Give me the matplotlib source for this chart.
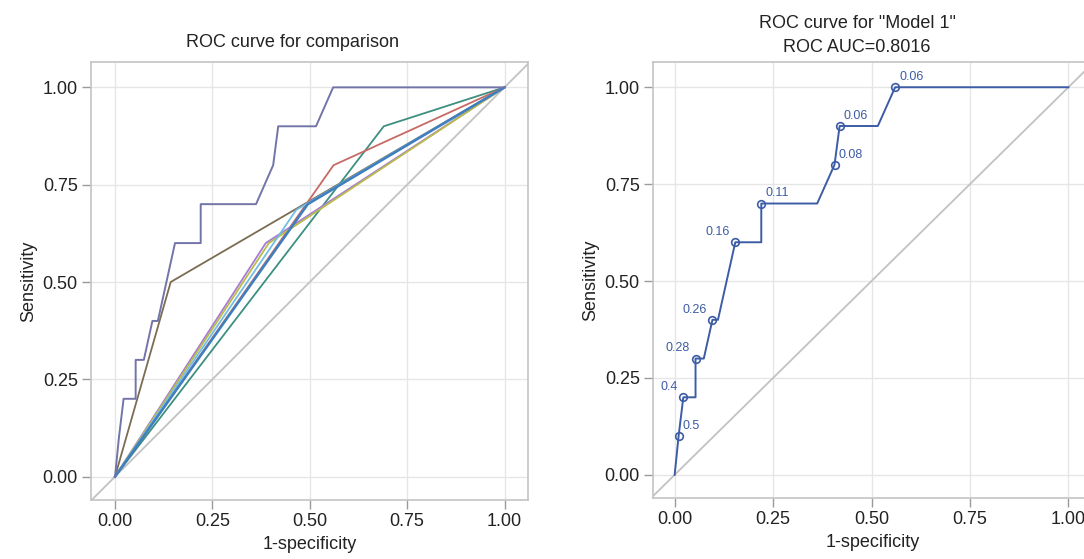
import matplotlib
matplotlib.use("Agg")
import matplotlib.pyplot as plt

plt.rcParams["font.family"] = ["Liberation Sans", "DejaVu Sans"]

# Model 1 ROC points (1-specificity, sensitivity)
m1_fpr = [0.0, 0.010, 0.022, 0.053, 0.053, 0.074, 0.096, 0.110, 0.154, 0.220, 0.220,
          0.362, 0.406, 0.419, 0.516, 0.560, 1.0]
m1_tpr = [0.0, 0.1, 0.2, 0.2, 0.3, 0.3, 0.4, 0.4, 0.6, 0.6, 0.7,
          0.7, 0.8, 0.9, 0.9, 1.0, 1.0]

# cut-off labels shown on the right panel
cut_fpr = [0.010, 0.022, 0.053, 0.096, 0.154, 0.220, 0.406, 0.419, 0.560]
cut_tpr = [0.1, 0.2, 0.3, 0.4, 0.6, 0.7, 0.8, 0.9, 1.0]
cut_lab = ["0.5", "0.4", "0.28", "0.26", "0.16", "0.11", "0.08", "0.06", "0.06"]
cut_side = ["r", "l", "l", "l", "l", "r", "r", "r", "r"]

# single-cutoff comparison curves
others = {
    "brown": ([0, 0.143, 1], [0, 0.5, 1], "#7b6c52"),
    "teal": ([0, 0.69, 1], [0, 0.9, 1], "#3d8f80"),
    "red": ([0, 0.561, 1], [0, 0.8, 1], "#c76a66"),
    "purple": ([0, 0.387, 1], [0, 0.6, 1], "#a77ad6"),
    "yellow": ([0, 0.395, 1], [0, 0.6, 1], "#b9bb4a"),
    "cyan": ([0, 0.465, 1], [0, 0.685, 1], "#72bde6"),
    "blue": ([0, 0.495, 1], [0, 0.70, 1], "#3f7fbf"),
}

ticks = [0.0, 0.25, 0.5, 0.75, 1.0]
tick_labels = ["0.00", "0.25", "0.50", "0.75", "1.00"]

fig = plt.figure(figsize=(10.84, 5.59), dpi=100)
ax1 = fig.add_axes([0.084, 0.1055, 0.403, 0.7835])
ax2 = fig.add_axes([0.6024, 0.109, 0.405, 0.780])


def style(ax, xmin):
    ax.set_xlim(xmin, 1.06)
    ax.set_ylim(-0.06, 1.065)
    ax.set_xticks(ticks)
    ax.set_xticklabels(tick_labels)
    ax.set_yticks(ticks)
    ax.set_yticklabels(tick_labels)
    ax.grid(True, color="#e6e6e6", lw=1)
    ax.set_axisbelow(True)
    for s in ax.spines.values():
        s.set_color("#c4c4c4")
        s.set_linewidth(1.2)
    ax.tick_params(length=6.5, width=1, color="#9a9a9a", labelsize=13,
                   labelcolor="#222222", pad=3)
    ax.axline((0, 0), slope=1, color="#c2c2c2", lw=1.3, zorder=1)
    ax.set_xlabel("1-specificity", fontsize=13, color="#222222", labelpad=4)
    ax.set_ylabel("Sensitivity", fontsize=13, color="#222222", labelpad=4)


style(ax1, -0.0615)
style(ax2, -0.055)

# left panel
for name, (fx, fy, col) in others.items():
    lw = 1.8 if name == "blue" else 1.3
    ax1.plot(fx, fy, color=col, lw=lw, zorder=3)
ax1.plot(m1_fpr, m1_tpr, color="#7374a8", lw=1.4, zorder=4)
ax1.set_title("ROC curve for comparison", fontsize=13, color="#222222",
              x=0.462, pad=11)

# right panel
blue = "#3d5ca6"
ax2.plot(m1_fpr, m1_tpr, color=blue, lw=1.4, zorder=3)
ax2.plot(cut_fpr, cut_tpr, "o", ms=5.5, mfc="none", mec=blue, mew=1.2, zorder=4)
for x, y, t, side in zip(cut_fpr, cut_tpr, cut_lab, cut_side):
    if side == "r":
        ax2.annotate(t, (x, y), xytext=(3, 3), textcoords="offset points",
                     ha="left", va="bottom", fontsize=9, color=blue)
    else:
        ax2.annotate(t, (x, y), xytext=(-4, 3), textcoords="offset points",
                     ha="right", va="bottom", fontsize=9, color=blue)
ax2.set_title('ROC curve for "Model 1"\nROC AUC=0.8016', fontsize=13,
              color="#222222", x=0.465, pad=7, linespacing=1.6)

fig.savefig("out.png", dpi=100)
